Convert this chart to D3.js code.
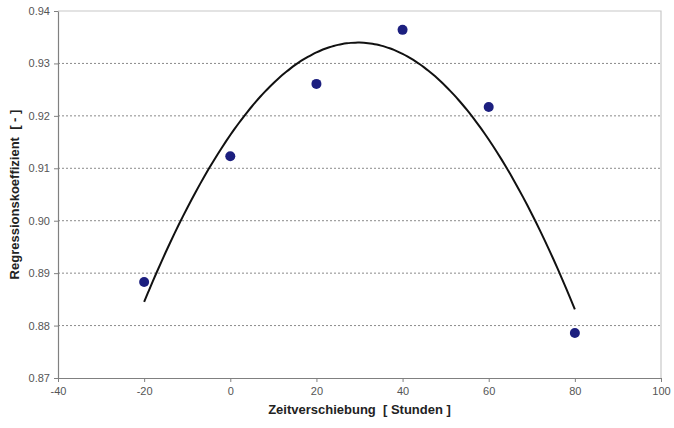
<!DOCTYPE html>
<html>
<head>
<meta charset="utf-8">
<script src="https://cdn.jsdelivr.net/npm/d3@7"></script>
<style>
  html, body { margin: 0; padding: 0; background: #fff; }
  svg { display: block; font-family: "Liberation Sans", Arial, sans-serif; }
</style>
</head>
<body>
<svg id="chart" width="674" height="428"></svg>
<script>
// Time shift in hours and the regression coefficient measured at each shift
const shiftHours = [-20, 0, 20, 40, 60, 80];
const coefficients = [0.8883, 0.9123, 0.9261, 0.9364, 0.9217, 0.8786];

const xTicks = [-40, -20, 0, 20, 40, 60, 80, 100];
const yTicks = [0.87, 0.88, 0.89, 0.90, 0.91, 0.92, 0.93, 0.94];

const xTitle = "Zeitverschiebung  [ Stunden ]";
const yTitle = "Regressionskoeffizient  [ - ]";

const svg = d3.select("#chart");
const m = { left: 58, right: 13, top: 11, bottom: 50 };
const W = 674, H = 428;

const x = d3.scaleLinear().domain([-40, 100]).range([m.left, W - m.right]);
const y = d3.scaleLinear().domain([0.87, 0.94]).range([H - m.bottom, m.top]);

// Horizontal dotted gridlines
svg.append("g")
  .selectAll("line")
  .data(yTicks.slice(1, -1))
  .join("line")
  .attr("x1", x(-40)).attr("x2", x(100))
  .attr("y1", d => y(d)).attr("y2", d => y(d))
  .attr("stroke", "#8a8a8a")
  .attr("stroke-width", 1)
  .attr("stroke-dasharray", "2,2");

// Light frame on top and right
svg.append("path")
  .attr("d", `M${x(-40)},${y(0.94)}H${x(100)}V${y(0.87)}`)
  .attr("fill", "none")
  .attr("stroke", "#c8c8c8")
  .attr("stroke-width", 1.2);

// Axes (plain hyphen for negative labels)
const xAxis = svg.append("g")
  .attr("transform", `translate(0,${y(0.87)})`)
  .call(d3.axisBottom(x).tickValues(xTicks).tickSize(4).tickSizeOuter(0).tickFormat(d => String(d)));
const yAxis = svg.append("g")
  .attr("transform", `translate(${x(-40)},0)`)
  .call(d3.axisLeft(y).tickValues(yTicks).tickSize(4).tickSizeOuter(0).tickFormat(d => d.toFixed(2)));

[xAxis, yAxis].forEach(g => {
  g.select(".domain").attr("stroke", "#808080").attr("stroke-width", 1.2);
  g.selectAll(".tick line").attr("stroke", "#808080");
  g.selectAll(".tick text")
    .attr("fill", "#555")
    .style("font-size", "11px")
    .style("font-family", "'Liberation Sans', Arial, sans-serif");
});
xAxis.selectAll(".tick text").attr("dy", "0.95em");
yAxis.selectAll(".tick text").attr("x", -8);

// Second-order polynomial least-squares trend through the measurements
function quadFit(xs, ys) {
  const n = xs.length;
  let s = [0, 0, 0, 0, 0], t = [0, 0, 0];
  for (let i = 0; i < n; i++) {
    let p = 1;
    for (let k = 0; k <= 4; k++) { s[k] += p; if (k <= 2) t[k] += p * ys[i]; p *= xs[i]; }
  }
  const A = [[s[0], s[1], s[2], t[0]], [s[1], s[2], s[3], t[1]], [s[2], s[3], s[4], t[2]]];
  for (let c = 0; c < 3; c++) {
    for (let r = c + 1; r < 3; r++) {
      const f = A[r][c] / A[c][c];
      for (let k = c; k < 4; k++) A[r][k] -= f * A[c][k];
    }
  }
  const coef = [0, 0, 0];
  for (let r = 2; r >= 0; r--) {
    let v = A[r][3];
    for (let k = r + 1; k < 3; k++) v -= A[r][k] * coef[k];
    coef[r] = v / A[r][r];
  }
  return xv => coef[0] + coef[1] * xv + coef[2] * xv * xv;
}
const trend = quadFit(shiftHours, coefficients);
const trendX = d3.range(-20, 80.01, 1);
svg.append("path")
  .datum(trendX)
  .attr("d", d3.line().x(d => x(d)).y(d => y(trend(d))).curve(d3.curveBasis))
  .attr("fill", "none")
  .attr("stroke", "#111")
  .attr("stroke-width", 2);

// Measured points
svg.append("g")
  .selectAll("circle")
  .data(shiftHours.map((h, i) => [h, coefficients[i]]))
  .join("circle")
  .attr("cx", d => x(d[0]))
  .attr("cy", d => y(d[1]))
  .attr("r", 5)
  .attr("fill", "#1c1f7f");

// Axis titles
svg.append("text")
  .attr("x", (x(-40) + x(100)) / 2).attr("y", 414)
  .attr("text-anchor", "middle")
  .style("font-size", "13px").style("font-weight", "bold")
  .attr("fill", "#222")
  .attr("xml:space", "preserve")
  .text(xTitle);
svg.append("text")
  .attr("transform", `translate(19,${(y(0.87) + y(0.94)) / 2}) rotate(-90)`)
  .attr("text-anchor", "middle")
  .style("font-size", "13px").style("font-weight", "bold")
  .attr("fill", "#222")
  .attr("xml:space", "preserve")
  .text(yTitle);
</script>
</body>
</html>
